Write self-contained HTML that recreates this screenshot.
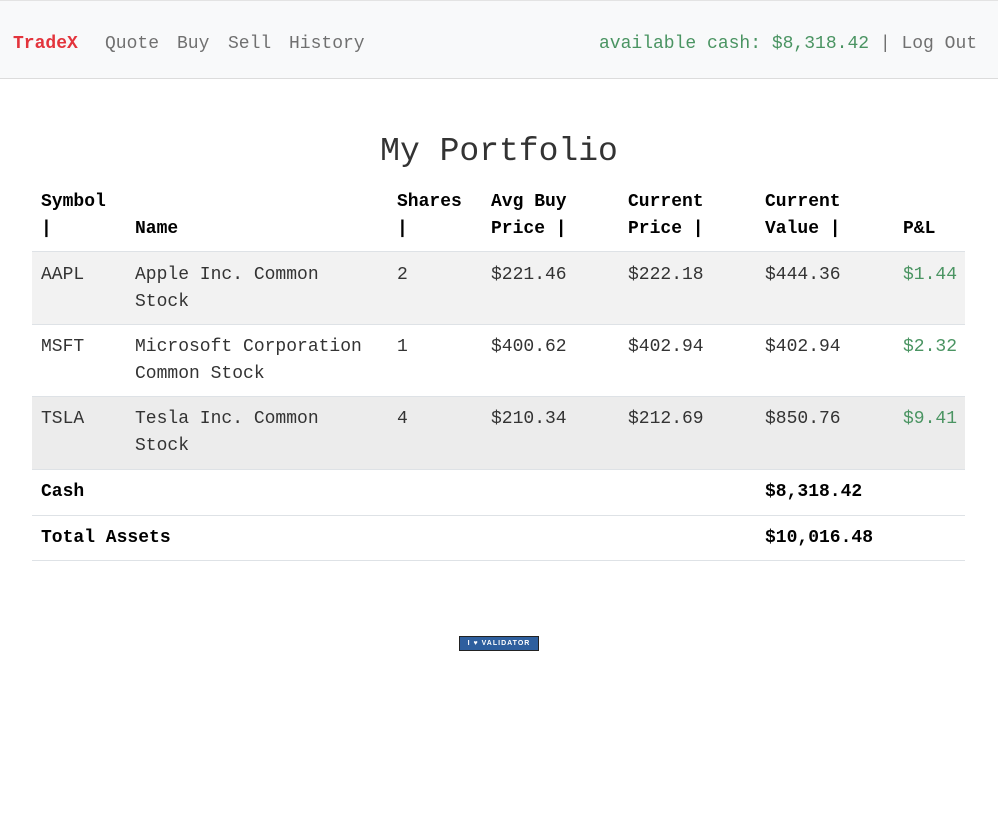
<!DOCTYPE html>
<html><head><style>
body{margin:0;background:#fff;font-family:"Liberation Mono",monospace;font-size:18px;color:#333;}
.nav{position:absolute;left:0;top:0;width:998px;height:77px;background:#f8f9fa;border-top:1px solid #e3e3e3;border-bottom:1px solid #dcdcdc;}
.nav span{position:absolute;top:33px;line-height:20px;color:#707070;}
.brand{color:#e3343c!important;font-weight:bold;}
h1{position:absolute;top:132px;left:0;width:998px;text-align:center;margin:0;font-weight:normal;font-size:33px;line-height:40px;color:#333;}
.t{position:absolute;left:32px;width:933px;}
.r{position:absolute;left:0;width:933px;}
.c{position:absolute;line-height:27px;}
.g{color:#4a9462;}
</style></head><body>
<div class="nav">
<span class="brand" style="left:13px">TradeX</span>
<span style="left:105px">Quote</span>
<span style="left:177px">Buy</span>
<span style="left:228px">Sell</span>
<span style="left:289px">History</span>
<span style="left:599px"><span style="position:static;color:#4a9462">available cash: $8,318.42</span> | Log Out</span>
</div>
<h1>My Portfolio</h1>
<div class="t">
<div class="r" style="top:188px;height:63px;border-bottom:1px solid #dee2e6;font-weight:bold;color:#000">
<div class="c" style="left:9px;top:1px">Symbol<br>|</div>
<div class="c" style="left:103px;top:28px">Name</div>
<div class="c" style="left:365px;top:1px">Shares<br>|</div>
<div class="c" style="left:459px;top:1px">Avg Buy<br>Price |</div>
<div class="c" style="left:596px;top:1px">Current<br>Price |</div>
<div class="c" style="left:733px;top:1px">Current<br>Value |</div>
<div class="c" style="left:871px;top:28px">P&amp;L</div>
</div>
<div class="r" style="top:252px;height:72px;background:#f2f2f2;border-bottom:1px solid #dee2e6">
<div class="c" style="left:9px;top:10px">AAPL</div><div class="c" style="left:103px;top:10px">Apple Inc. Common<br>Stock</div>
<div class="c" style="left:365px;top:10px">2</div><div class="c" style="left:459px;top:10px">$221.46</div><div class="c" style="left:596px;top:10px">$222.18</div><div class="c" style="left:733px;top:10px">$444.36</div><div class="c g" style="left:871px;top:10px">$1.44</div>
</div>
<div class="r" style="top:325px;height:71px;background:#fff;border-bottom:1px solid #dee2e6">
<div class="c" style="left:9px;top:9px">MSFT</div><div class="c" style="left:103px;top:9px">Microsoft Corporation<br>Common Stock</div>
<div class="c" style="left:365px;top:9px">1</div><div class="c" style="left:459px;top:9px">$400.62</div><div class="c" style="left:596px;top:9px">$402.94</div><div class="c" style="left:733px;top:9px">$402.94</div><div class="c g" style="left:871px;top:9px">$2.32</div>
</div>
<div class="r" style="top:397px;height:72px;background:#ececec;border-bottom:1px solid #dee2e6">
<div class="c" style="left:9px;top:9px">TSLA</div><div class="c" style="left:103px;top:9px">Tesla Inc. Common<br>Stock</div>
<div class="c" style="left:365px;top:9px">4</div><div class="c" style="left:459px;top:9px">$210.34</div><div class="c" style="left:596px;top:9px">$212.69</div><div class="c" style="left:733px;top:9px">$850.76</div><div class="c g" style="left:871px;top:9px">$9.41</div>
</div>
<div class="r" style="top:470px;height:45px;border-bottom:1px solid #dee2e6;font-weight:bold;color:#000">
<div class="c" style="left:9px;top:9px">Cash</div><div class="c" style="left:733px;top:9px">$8,318.42</div>
</div>
<div class="r" style="top:516px;height:44px;border-bottom:1px solid #dee2e6;font-weight:bold;color:#000">
<div class="c" style="left:9px;top:9px">Total Assets</div><div class="c" style="left:733px;top:9px">$10,016.48</div>
</div>
</div>
<div style="position:absolute;left:459px;top:636px;width:78px;height:13px;background:#2e5f9e;border:1px solid #222;color:#fff;font-family:'Liberation Sans',sans-serif;font-size:7px;line-height:13px;text-align:center;font-weight:bold;letter-spacing:1px">I ♥ VALIDATOR</div>
</body></html>
